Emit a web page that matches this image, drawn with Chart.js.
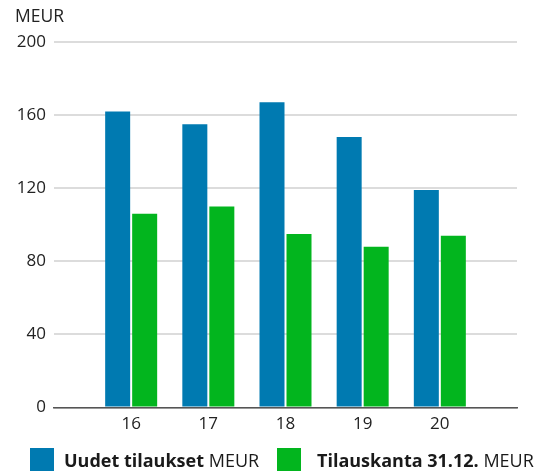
<!DOCTYPE html>
<html>
<head>
<meta charset="utf-8">
<script src="https://cdn.jsdelivr.net/npm/chart.js@4"></script>
<style>
  html, body { margin: 0; padding: 0; background: #fff; }
  #wrap { position: relative; width: 538px; height: 471px; overflow: hidden; font-family: "Open Sans", "Noto Sans", sans-serif; color: #1a1a1a; }
  #c { position: absolute; left: 0; top: 0; }
  #unit { position: absolute; left: 15px; top: 5px; font-size: 17.5px; line-height: 20px; color: #222; }
  .leg { position: absolute; top: 448px; height: 24px; font-size: 18px; line-height: 24px; white-space: nowrap; color: #1a1a1a; }
  .leg .box { position: absolute; left: 0; top: 0; width: 24px; height: 24px; }
  .leg .txt { position: absolute; top: 0px; }
  .leg b { font-weight: 700; }
</style>
</head>
<body>
<div id="wrap">
  <canvas id="c" width="538" height="471"></canvas>
  <div id="unit">MEUR</div>
  <div class="leg" style="left:30px"><span class="box" style="background:#007AB1"></span><span class="txt" style="left:34px"><b>Uudet tilaukset</b> MEUR</span></div>
  <div class="leg" style="left:277px"><span class="box" style="background:#02B51E"></span><span class="txt" style="left:40px"><b>Tilauskanta 31.12.</b> MEUR</span></div>
</div>
<script>
const categories = [16, 17, 18, 19, 20];
const seriesNames = ['Uudet tilaukset MEUR', 'Tilauskanta 31.12. MEUR'];
const newOrders = [162, 155, 167, 148, 119];
const orderBacklog = [106, 110, 95, 88, 94];
const yTicks = [0, 40, 80, 120, 160, 200];

const toPoints = vals => categories.map((c, i) => ({ x: c, y: vals[i] }));

new Chart(document.getElementById('c'), {
  type: 'bar',
  data: {
    datasets: [
      { label: seriesNames[0], data: toPoints(newOrders), backgroundColor: '#007AB1', categoryPercentage: 0.6998, barPercentage: 0.926 },
      { label: seriesNames[1], data: toPoints(orderBacklog), backgroundColor: '#02B51E', categoryPercentage: 0.6998, barPercentage: 0.926 }
    ]
  },
  options: {
    responsive: false,
    animation: false,
    layout: { padding: { top: 42, right: 21, left: 0, bottom: 31 } },
    plugins: { legend: { display: false }, tooltip: { enabled: false } },
    scales: {
      x: {
        type: 'linear',
        offset: false,
        min: categories[0] - 1,
        max: categories[categories.length - 1] + 1,
        grid: { display: false, drawTicks: false, offset: false },
        border: { display: true, color: '#555', width: 1.5 },
        afterBuildTicks: s => { s.ticks = categories.map(v => ({ value: v })); },
        ticks: {
          padding: 6,
          color: '#222',
          font: { family: '"Open Sans", "Noto Sans", sans-serif', size: 17 },
          callback: v => String(v)
        }
      },
      y: {
        min: yTicks[0],
        max: yTicks[yTicks.length - 1],
        afterBuildTicks: s => { s.ticks = yTicks.map(v => ({ value: v })); },
        afterFit: s => { s.width = 54; },
        grid: { color: '#dcdcdc', lineWidth: 2, drawTicks: false },
        border: { display: false },
        ticks: {
          padding: 8,
          color: '#222',
          font: { family: '"Open Sans", "Noto Sans", sans-serif', size: 17 }
        }
      }
    }
  }
});
</script>
</body>
</html>
